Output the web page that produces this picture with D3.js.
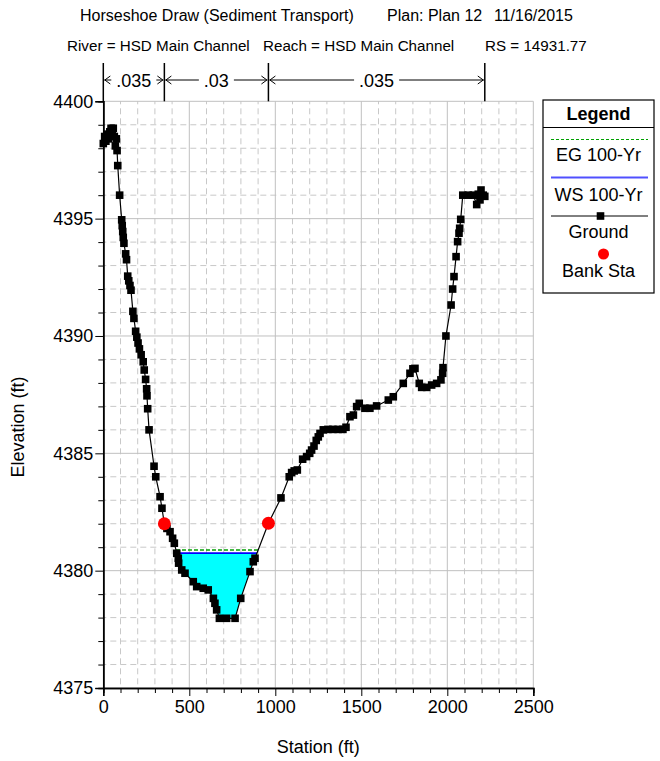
<!DOCTYPE html>
<html>
<head>
<meta charset="utf-8">
<script src="https://cdn.jsdelivr.net/npm/d3@7"></script>
<style>
  body { margin: 0; background: #fff; }
  svg { display: block; }
  text { font-family: "Liberation Sans", Arial, sans-serif; fill: #000; }
</style>
</head>
<body>
<svg id="chart" width="660" height="761"></svg>
<script>
// Ground survey points (station ft, elevation ft)
const stations = [
  0, 8, 15, 22, 30, 38, 45, 52, 58, 64, 70, 76, 80, 84, 95,
  107, 110, 113, 116, 120, 130, 135, 142, 148, 155, 161, 172, 178,
  188, 195, 202, 210, 220, 232, 238, 246, 252, 254, 258, 266,
  295, 305, 330, 341, 355, 370, 388, 403, 413, 427, 436, 438, 456, 475,
  523, 543, 581, 610, 640, 649, 659, 675, 717, 766, 799, 853, 872, 882,
  960, 1033, 1081, 1095, 1110, 1128, 1159, 1182, 1200, 1211, 1225, 1238,
  1250, 1260, 1279, 1306, 1335, 1365, 1393, 1411, 1434, 1454, 1473, 1488,
  1521, 1550, 1589, 1657, 1686, 1744, 1783, 1800, 1812, 1837, 1851, 1880,
  1909, 1938, 1963, 1973, 1975, 1992, 2022, 2031, 2039, 2051, 2060, 2068,
  2072, 2078, 2090, 2122, 2151, 2171, 2180, 2190, 2196, 2209, 2218
];
const elevations = [
  4398.2, 4398.5, 4398.3, 4398.6, 4398.4, 4398.7, 4398.85, 4398.7, 4398.85, 4398.5, 4398.1, 4398.4, 4397.9, 4397.26, 4396.0,
  4394.95, 4394.7, 4394.45, 4394.2, 4393.95, 4393.5, 4393.25, 4392.55, 4392.35, 4392.15, 4391.95, 4391.05, 4390.75,
  4390.2, 4389.95, 4389.7, 4389.45, 4389.2, 4388.9, 4388.55, 4388.15, 4387.75, 4387.45, 4386.9, 4386.0,
  4384.45, 4384.0, 4383.15, 4382.66, 4382.0, 4381.8, 4381.66, 4381.38, 4381.17, 4380.74, 4380.53, 4380.32, 4380.03, 4379.89,
  4379.53, 4379.32, 4379.25, 4379.18, 4378.82, 4378.61, 4378.33, 4377.97, 4377.97, 4377.97, 4378.82, 4379.96, 4380.38, 4380.53,
  4382.02, 4383.1, 4384.0, 4384.18, 4384.25, 4384.29, 4384.75, 4384.86, 4385.0, 4385.14, 4385.31, 4385.55,
  4385.7, 4385.85, 4386.0, 4386.02, 4386.02, 4386.02, 4386.02, 4386.11, 4386.56, 4386.63, 4386.99, 4387.13,
  4386.92, 4386.92, 4387.02, 4387.27, 4387.41, 4387.98, 4388.41, 4388.6, 4388.62, 4387.98, 4387.81, 4387.81,
  4387.91, 4387.98, 4388.13, 4388.41, 4388.65, 4390.0, 4391.32, 4392.0, 4392.53, 4393.38, 4394.02, 4394.38,
  4394.59, 4394.97, 4396.0, 4396.0, 4396.0, 4395.6, 4396.04, 4395.8, 4396.22, 4396.0, 4395.95
];

// Bank stations
const bankStations = [355, 960];
const bankElevations = [4382.0, 4382.02];

// 100-yr profile
const wsElevation = 4380.75;
const egElevation = 4380.88;

// Manning's n regions
const nBreaks = [0, 355, 960, 2218];
const nValues = [".035", ".03", ".035"];

// Axis ticks
const xTicks = [0, 500, 1000, 1500, 2000, 2500];
const yTicks = [4375, 4380, 4385, 4390, 4395, 4400];
const xMinorTicks = d3.range(0, 2501, 100);
const yMinorTicks = d3.range(4375, 4401, 1);

// Header text
const titleLine1 = [
  { text: "Horseshoe Draw (Sediment Transport)", x: 80 },
  { text: "Plan: Plan 12", x: 387 },
  { text: "11/16/2015", x: 494 }
];
const titleLine2 = [
  { text: "River = HSD Main Channel", x: 67 },
  { text: "Reach = HSD Main Channel", x: 263 },
  { text: "RS = 14931.77", x: 485 }
];

const legendItems = ["EG 100-Yr", "WS 100-Yr", "Ground", "Bank Sta"];

const svg = d3.select("#chart");
const x = d3.scaleLinear().domain([0, 2500]).range([103.3, 533.3]);
const y = d3.scaleLinear().domain([4375, 4400]).range([688, 101.3]);

const ground = stations.map((s, i) => ({ s, e: elevations[i] }));

// ---- header
const hdr = svg.append("g");
titleLine1.forEach(t => hdr.append("text").attr("x", t.x).attr("y", 21).attr("font-size", 16).text(t.text));
titleLine2.forEach(t => hdr.append("text").attr("x", t.x).attr("y", 51).attr("font-size", 15.2).text(t.text));

// ---- grid
const grid = svg.append("g");
xMinorTicks.filter(v => v % 500 !== 0).forEach(v => {
  grid.append("line").attr("x1", x(v)).attr("x2", x(v)).attr("y1", y(4400)).attr("y2", y(4375))
    .attr("stroke", "#c8c8c8").attr("stroke-dasharray", "6,4").attr("stroke-dashoffset", 3);
});
yMinorTicks.filter(v => v % 5 !== 0).forEach(v => {
  grid.append("line").attr("x1", x(0)).attr("x2", x(2500)).attr("y1", y(v)).attr("y2", y(v))
    .attr("stroke", "#c8c8c8").attr("stroke-dasharray", "6,4").attr("stroke-dashoffset", 3);
});
xTicks.forEach(v => {
  grid.append("line").attr("x1", x(v)).attr("x2", x(v)).attr("y1", y(4400)).attr("y2", y(4375))
    .attr("stroke", "#c0c0c0");
});
yTicks.forEach(v => {
  grid.append("line").attr("x1", x(0)).attr("x2", x(2500)).attr("y1", y(v)).attr("y2", y(v))
    .attr("stroke", "#c0c0c0");
});

// ---- water surface fill between the crossings of WS with the ground
function crossings(level) {
  const iMin = d3.minIndex(ground, d => d.e);
  let i = iMin;
  while (i > 0 && ground[i - 1].e < level) i--;
  const a = ground[i - 1], b = ground[i];
  const left = a.s + (level - a.e) / (b.e - a.e) * (b.s - a.s);
  let j = iMin;
  while (j < ground.length - 1 && ground[j + 1].e < level) j++;
  const c = ground[j], d = ground[j + 1];
  const right = c.s + (level - c.e) / (d.e - c.e) * (d.s - c.s);
  return { left, right, i, j };
}
const ws = crossings(wsElevation);
const wet = [{ s: ws.left, e: wsElevation }]
  .concat(ground.slice(ws.i, ws.j + 1))
  .concat([{ s: ws.right, e: wsElevation }]);
svg.append("path")
  .attr("d", d3.line().x(d => x(d.s)).y(d => y(d.e))(wet) + "Z")
  .attr("fill", "#00ffff").attr("stroke", "none");

const eg = crossings(egElevation);
svg.append("line").attr("x1", x(eg.left)).attr("x2", x(eg.right))
  .attr("y1", y(egElevation)).attr("y2", y(egElevation))
  .attr("stroke", "#00a000").attr("stroke-width", 1.3).attr("stroke-dasharray", "4,2");
svg.append("line").attr("x1", x(ws.left)).attr("x2", x(ws.right))
  .attr("y1", y(wsElevation)).attr("y2", y(wsElevation))
  .attr("stroke", "#0000ff").attr("stroke-width", 1.8);

// ---- axes
svg.append("g").attr("transform", `translate(${x(0)},0)`)
  .call(d3.axisLeft(y).tickValues(yTicks).tickSize(8).tickPadding(2).tickFormat(d3.format("d")));
svg.append("g").attr("transform", `translate(${x(0)},0)`)
  .call(d3.axisLeft(y).tickValues(yMinorTicks.filter(v => v % 5 !== 0)).tickSize(5).tickFormat(""));
svg.append("g").attr("transform", `translate(0,${y(4375)})`)
  .call(d3.axisBottom(x).tickValues(xTicks).tickSize(8).tickPadding(4).tickFormat(d3.format("d")));
svg.append("g").attr("transform", `translate(0,${y(4375)})`)
  .call(d3.axisBottom(x).tickValues(xMinorTicks.filter(v => v % 500 !== 0)).tickSize(5).tickFormat(""));
svg.selectAll(".domain").attr("stroke", "#000").attr("stroke-width", 1.5);
svg.selectAll(".tick line").attr("stroke", "#000");
svg.selectAll(".tick text").attr("font-size", 18).attr("font-family", '"Liberation Sans", Arial, sans-serif');

svg.append("text").attr("x", (x(0) + x(2500)) / 2).attr("y", 753).attr("text-anchor", "middle")
  .attr("font-size", 18).text("Station (ft)");
svg.append("text").attr("transform", "translate(24,427) rotate(-90)")
  .attr("text-anchor", "middle").attr("font-size", 18).text("Elevation (ft)");

// ---- ground line and points
svg.append("path").datum(ground)
  .attr("d", d3.line().x(d => x(d.s)).y(d => y(d.e)))
  .attr("fill", "none").attr("stroke", "#000").attr("stroke-width", 1.2);
svg.append("g").selectAll("rect").data(ground).join("rect")
  .attr("x", d => x(d.s) - 3.8).attr("y", d => y(d.e) - 3.8)
  .attr("width", 7.6).attr("height", 7.6).attr("fill", "#000");

// ---- bank stations
svg.append("g").selectAll("circle").data(bankStations).join("circle")
  .attr("cx", d => x(d)).attr("cy", (d, i) => y(bankElevations[i])).attr("r", 6.5)
  .attr("fill", "#ff0000");

// ---- Manning's n bar
const nY = 80;
const nBar = svg.append("g");
nBreaks.forEach(b => {
  nBar.append("line").attr("x1", x(b)).attr("x2", x(b)).attr("y1", 63).attr("y2", y(4400))
    .attr("stroke", "#000").attr("stroke-width", 1.5);
});
nValues.forEach((v, k) => {
  const xa = x(nBreaks[k]), xb = x(nBreaks[k + 1]);
  const mid = (xa + xb) / 2;
  const t = nBar.append("text").attr("x", mid).attr("y", nY + 6.5).attr("text-anchor", "middle")
    .attr("font-size", 18).text(v);
  const w = t.node().getComputedTextLength();
  const l1 = mid - w / 2 - 5, r1 = mid + w / 2 + 5;
  if (l1 > xa + 2) nBar.append("line").attr("x1", xa + 1).attr("x2", l1).attr("y1", nY).attr("y2", nY).attr("stroke", "#000");
  if (r1 < xb - 2) nBar.append("line").attr("x1", r1).attr("x2", xb - 1).attr("y1", nY).attr("y2", nY).attr("stroke", "#000");
  nBar.append("path").attr("d", `M${xa + 7},${nY - 4}L${xa + 1.5},${nY}L${xa + 7},${nY + 4}`)
    .attr("fill", "none").attr("stroke", "#000");
  nBar.append("path").attr("d", `M${xb - 7},${nY - 4}L${xb - 1.5},${nY}L${xb - 7},${nY + 4}`)
    .attr("fill", "none").attr("stroke", "#000");
});

// ---- legend
const lg = svg.append("g");
const lx = 543, lw = 111, ly = 100, lh = 193, lcx = lx + lw / 2;
lg.append("rect").attr("x", lx).attr("y", ly).attr("width", lw).attr("height", lh)
  .attr("fill", "#fff").attr("stroke", "#000").attr("stroke-width", 1.2);
lg.append("line").attr("x1", lx).attr("x2", lx + lw).attr("y1", 127.5).attr("y2", 127.5).attr("stroke", "#000");
lg.append("text").attr("x", lcx).attr("y", 120).attr("text-anchor", "middle")
  .attr("font-size", 18).attr("font-weight", "bold").text("Legend");
lg.append("line").attr("x1", lx + 8).attr("x2", lx + lw - 6).attr("y1", 139.5).attr("y2", 139.5)
  .attr("stroke", "#00a000").attr("stroke-width", 1.2).attr("stroke-dasharray", "3,2");
lg.append("line").attr("x1", lx + 8).attr("x2", lx + lw - 6).attr("y1", 177.5).attr("y2", 177.5)
  .attr("stroke", "#5050ff").attr("stroke-width", 1.8);
lg.append("line").attr("x1", lx + 8).attr("x2", lx + lw - 6).attr("y1", 216).attr("y2", 216)
  .attr("stroke", "#000");
lg.append("rect").attr("x", lcx + 2 - 3.8).attr("y", 216 - 3.8).attr("width", 7.6).attr("height", 7.6).attr("fill", "#000");
lg.append("circle").attr("cx", lcx + 5).attr("cy", 254).attr("r", 5.5).attr("fill", "#ff0000");
[161, 201, 238, 277].forEach((yy, i) => {
  lg.append("text").attr("x", lcx).attr("y", yy).attr("text-anchor", "middle")
    .attr("font-size", 18).text(legendItems[i]);
});
</script>
</body>
</html>
